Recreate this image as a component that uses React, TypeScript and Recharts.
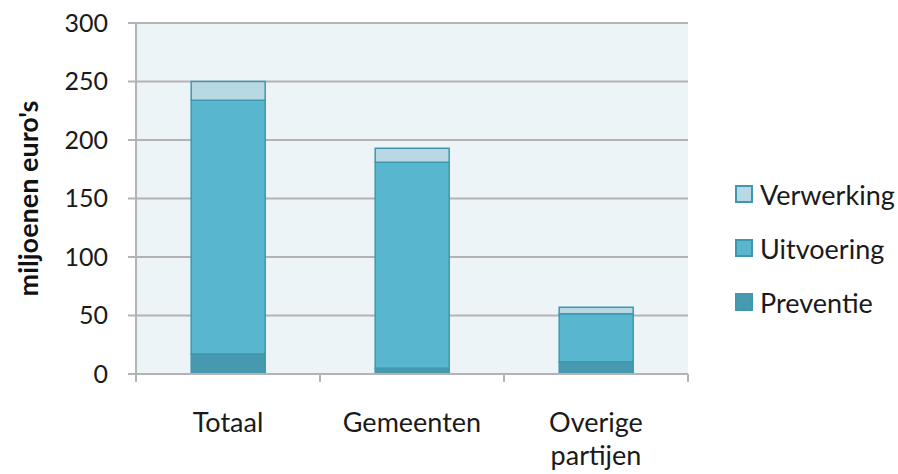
import React from "react";
import { BarChart, Bar, XAxis, YAxis, CartesianGrid } from "recharts";

const categories = ["Totaal", "Gemeenten", "Overige partijen"];
const preventie = [17, 5, 10.5];
const uitvoering = [217, 176, 41];
const verwerking = [16, 12, 5.5];
const yTicks = [0, 50, 100, 150, 200, 250, 300];
const legendOrder = ["Verwerking", "Uitvoering", "Preventie"];
const stackOrder = ["Preventie", "Uitvoering", "Verwerking"];

const data = categories.map((name, i) => ({
  name,
  Preventie: preventie[i],
  Uitvoering: uitvoering[i],
  Verwerking: verwerking[i],
}));

const FONT = "Lato, 'Open Sans', sans-serif";
const GRID = "#b3b3b3";
const EDGE = "#3f98ad";

const colors: Record<string, string> = {
  Verwerking: "#b8d8e4",
  Uitvoering: "#58b6cf",
  Preventie: "#4699ae",
};

function XTick(props: any) {
  const { x, y, payload, index, visibleTicksCount } = props;
  const off = payload && payload.offset ? payload.offset : 92;
  const lines = String(payload.value).split(" ");
  const last = index === (visibleTicksCount ?? 3) - 1;
  return (
    <g>
      <line x1={x - off} x2={x - off} y1={y - 8} y2={y} stroke={GRID} strokeWidth={2} />
      {last && <line x1={x + off} x2={x + off} y1={y - 8} y2={y} stroke={GRID} strokeWidth={2} />}
      {lines.map((l, i) => (
        <text
          key={i}
          x={x}
          y={y + 50 + i * 33}
          textAnchor="middle"
          fontFamily={FONT}
          fontSize={27}
          fill="#1a1a1a"
        >
          {l}
        </text>
      ))}
    </g>
  );
}

function LegendBox() {
  return (
    <div
      style={{
        position: "absolute",
        left: 735,
        top: 167,
        fontFamily: FONT,
        fontSize: 27,
        color: "#1a1a1a",
      }}
    >
      {legendOrder.map((k) => (
        <div key={k} style={{ display: "flex", alignItems: "center", height: 54 }}>
          <span
            style={{
              display: "inline-block",
              width: 14,
              height: 14,
              background: colors[k],
              border: `2px solid ${EDGE}`,
              marginRight: 7,
            }}
          />
          <span>{k}</span>
        </div>
      ))}
    </div>
  );
}

export default function App() {
  if (typeof document !== "undefined") document.body.style.margin = "0";
  return (
    <div style={{ width: 898, height: 474, background: "#fff", position: "relative" }}>
      <BarChart
        width={898}
        height={474}
        data={data}
        margin={{ top: 23, right: 210, bottom: 0, left: 0 }}
        barCategoryGap="30%"
      >
        <CartesianGrid vertical={false} fill="#edf4f8" stroke={GRID} strokeWidth={2} />
        <XAxis
          dataKey="name"
          height={100}
          tickLine={false}
          axisLine={{ stroke: GRID, strokeWidth: 2 }}
          tick={<XTick />}
          interval={0}
        />
        <YAxis
          width={136}
          domain={[0, 300]}
          ticks={yTicks}
          interval={0}
          tickSize={8}
          tickMargin={20}
          tickLine={{ stroke: GRID, strokeWidth: 2 }}
          axisLine={{ stroke: GRID, strokeWidth: 2 }}
          tick={{ fontFamily: FONT, fontSize: 25, fill: "#1a1a1a" }}
          label={{
            value: "miljoenen euro's",
            angle: -90,
            position: "insideLeft",
            offset: 0,
            dx: 28,
            style: { fontFamily: FONT, fontSize: 27, fontWeight: 700, fill: "#111", textAnchor: "middle" },
          }}
        />
        {stackOrder.map((k) => (
          <Bar
            key={k}
            dataKey={k}
            stackId="a"
            fill={colors[k]}
            stroke={EDGE}
            strokeWidth={1.5}
            isAnimationActive={false}
          />
        ))}
      </BarChart>
      <LegendBox />
    </div>
  );
}
